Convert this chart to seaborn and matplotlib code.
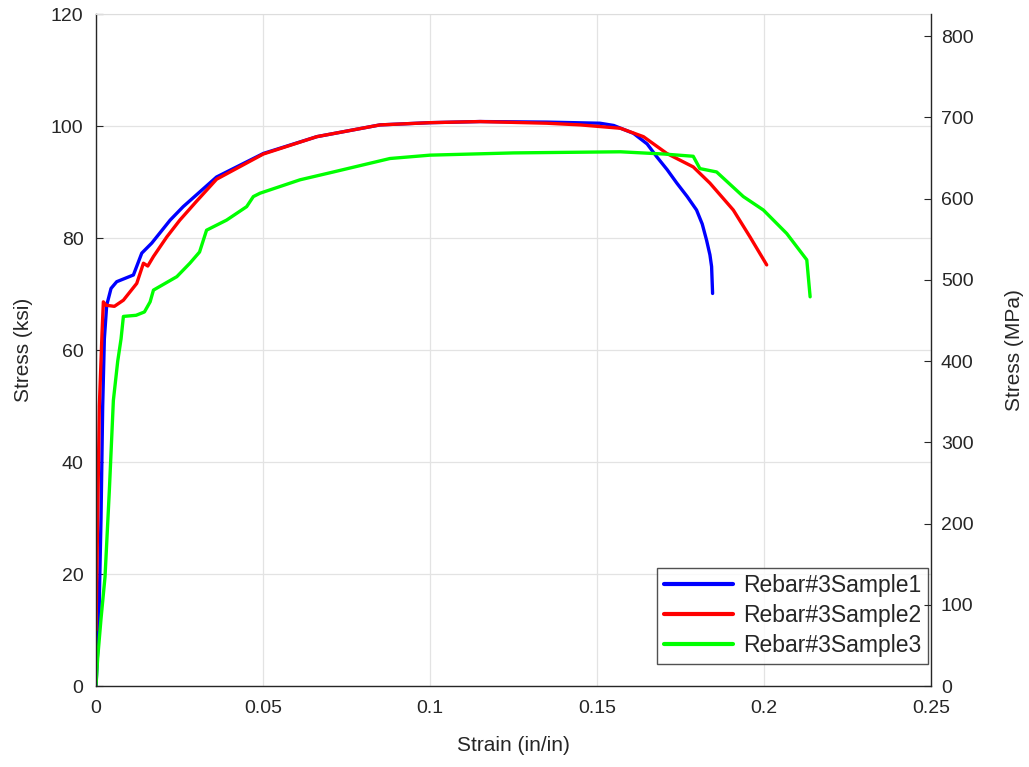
import matplotlib
matplotlib.use("Agg")
import matplotlib.pyplot as plt
import seaborn as sns
import pandas as pd
import numpy as np

# ---- data ----
s1_strain = [0, 0.0008, 0.0015, 0.002, 0.0025, 0.0032, 0.0045, 0.0062, 0.0112, 0.0137,
             0.0167, 0.0222, 0.0261, 0.0361, 0.0501, 0.0661, 0.085, 0.1, 0.115, 0.135,
             0.1509, 0.155, 0.1609, 0.165, 0.1679, 0.171, 0.1739, 0.177, 0.1798, 0.1815,
             0.1828, 0.1838, 0.1843, 0.1846]
s1_stress = [0, 10, 30, 50, 62, 68, 71, 72.2, 73.4, 77.3,
             79.1, 83.2, 85.6, 90.9, 95.1, 98.1, 100.2, 100.6, 100.8, 100.7,
             100.5, 100.1, 98.7, 96.8, 94.5, 92.2, 89.8, 87.4, 85.0, 82.5,
             79.6, 77.0, 74.9, 70.1]

s2_strain = [0, 0.0005, 0.001, 0.0018, 0.0022, 0.003, 0.0055, 0.0082, 0.0122, 0.0142,
             0.0155, 0.0172, 0.0212, 0.0251, 0.03, 0.0361, 0.0501, 0.0661, 0.085, 0.1,
             0.115, 0.135, 0.145, 0.157, 0.1639, 0.1709, 0.1788, 0.1838, 0.1908, 0.1958, 0.2008]
s2_stress = [10, 30, 50, 63, 68.6, 68.0, 67.8, 68.9, 71.9, 75.5,
             75.0, 76.7, 80.2, 83.2, 86.5, 90.5, 95.0, 98.1, 100.2, 100.6,
             100.8, 100.5, 100.2, 99.6, 98.1, 95.1, 92.7, 89.8, 85.0, 80.2, 75.2]

s3_strain = [0, 0.0005, 0.0015, 0.0027, 0.004, 0.0052, 0.0065, 0.0075, 0.0082, 0.012,
             0.0145, 0.0162, 0.0172, 0.0242, 0.0281, 0.031, 0.0331, 0.0391, 0.0451, 0.0471,
             0.0491, 0.0611, 0.0711, 0.088, 0.1, 0.125, 0.157, 0.17, 0.1788, 0.1808,
             0.1858, 0.1938, 0.1998, 0.2068, 0.2128, 0.2138]
s3_stress = [0, 5, 12, 19.5, 35, 51, 58, 62, 66, 66.2,
             66.8, 68.6, 70.7, 73.1, 75.5, 77.5, 81.4, 83.2, 85.6, 87.4,
             88.0, 90.4, 91.8, 94.2, 94.8, 95.2, 95.4, 95.0, 94.6, 92.4,
             91.8, 87.4, 85.0, 80.8, 76.1, 69.5]

labels = ["Rebar#3Sample1", "Rebar#3Sample2", "Rebar#3Sample3"]
colors = ["#0000ff", "#ff0000", "#00ff00"]
x_ticks = [0, 0.05, 0.1, 0.15, 0.2, 0.25]
x_ticklabels = ["0", "0.05", "0.1", "0.15", "0.2", "0.25"]
ksi_ticks = [0, 20, 40, 60, 80, 100, 120]
mpa_ticks = [0, 100, 200, 300, 400, 500, 600, 700, 800]
ksi_to_mpa = 6.89476

df = pd.concat([
    pd.DataFrame({"strain": s1_strain, "stress": s1_stress, "sample": labels[0]}),
    pd.DataFrame({"strain": s2_strain, "stress": s2_stress, "sample": labels[1]}),
    pd.DataFrame({"strain": s3_strain, "stress": s3_stress, "sample": labels[2]}),
], ignore_index=True)

sns.set_style("white")
plt.rcParams['font.family'] = ['Liberation Sans', 'DejaVu Sans']
txt = "#262626"

fig = plt.figure(figsize=(10.29, 7.67), dpi=100)
ax = fig.add_axes([0.0933, 0.1056, 0.8115, 0.8761])

sns.lineplot(data=df, x="strain", y="stress", hue="sample", palette=colors,
             sort=False, estimator=None, linewidth=2.4, ax=ax)

ax.set_xlim(0, 0.25)
ax.set_ylim(0, 120)
ax.set_xticks(x_ticks)
ax.set_xticklabels(x_ticklabels)
ax.set_yticks(ksi_ticks)
ax.grid(True, color="#e3e3e3", linewidth=0.9)
ax.set_axisbelow(True)
ax.tick_params(axis="both", direction="in", length=5, labelsize=14, colors=txt, width=0.8)
ax.tick_params(axis="x", pad=10)
ax.tick_params(axis="y", pad=9)
ax.set_xlabel("Strain (in/in)", fontsize=15, color=txt)
ax.set_ylabel("Stress (ksi)", fontsize=15, color=txt)
ax.xaxis.set_label_coords(0.5, -0.075)
ax.yaxis.set_label_coords(-0.076, 0.5)
for side in ["left", "bottom"]:
    ax.spines[side].set_color(txt)
    ax.spines[side].set_linewidth(1.0)
ax.spines["top"].set_color("#dddddd")
ax.spines["right"].set_visible(False)

ax2 = ax.twinx()
ax2.set_ylim(0, 120 * ksi_to_mpa)
ax2.set_yticks(mpa_ticks)
ax2.tick_params(direction="in", length=5, labelsize=14, colors=txt, width=0.8, pad=7)
ax2.set_ylabel("Stress (MPa)", fontsize=15, color=txt)
ax2.yaxis.set_label_coords(1.088, 0.5)
ax2.spines["right"].set_color(txt)
ax2.spines["right"].set_linewidth(1.0)
for side in ["left", "top", "bottom"]:
    ax2.spines[side].set_visible(False)

leg = ax.legend(loc="lower right", bbox_to_anchor=(0.9964, 0.0327), fontsize=16.5,
                frameon=True, fancybox=False, handlelength=3.0, borderpad=0.3,
                labelspacing=0.3, handletextpad=0.45, borderaxespad=0.0)
leg.get_frame().set_edgecolor(txt)
leg.get_frame().set_linewidth(1.0)
for line in leg.get_lines():
    line.set_linewidth(3.0)
for t in leg.get_texts():
    t.set_color(txt)

fig.savefig("out.png", dpi=100)
